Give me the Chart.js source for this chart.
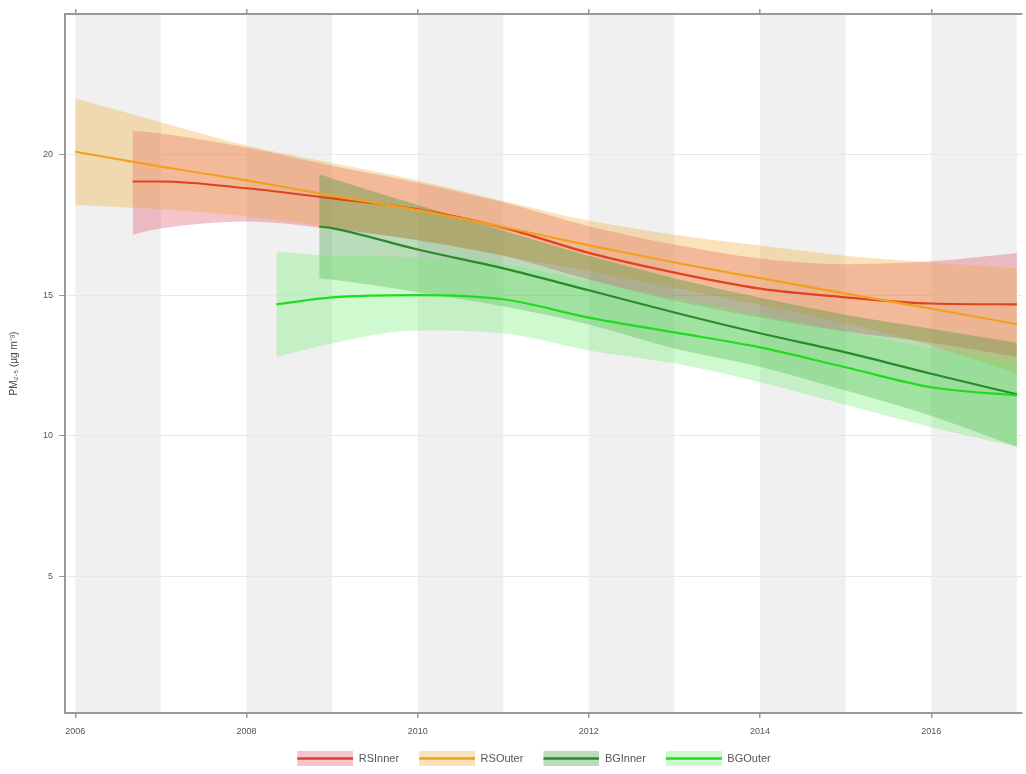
<!DOCTYPE html>
<html>
<head>
<meta charset="utf-8">
<script src="https://cdn.jsdelivr.net/npm/chart.js@4.4.1/dist/chart.umd.min.js"></script>
<style>
  html, body { margin: 0; padding: 0; background: #fff; }
  #wrap { width: 1026px; height: 774px; }
</style>
</head>
<body>
<div id="wrap"><canvas id="pmChart"></canvas></div>
<script>
// smoothed PM2.5 trends with confidence bands
var xTicks = [2006, 2008, 2010, 2012, 2014, 2016];
var yTicks = [5, 10, 15, 20];

var rsInnerYears = [2006.67, 2007, 2008, 2009, 2010, 2011, 2012, 2013, 2014, 2015, 2016, 2017];
var rsInnerFit   = [19.04, 19.04, 18.8, 18.44, 18.05, 17.4, 16.5, 15.8, 15.23, 14.92, 14.7, 14.67];
var rsInnerHigh  = [20.85, 20.75, 20.25, 19.6, 19.0, 18.3, 17.45, 16.8, 16.3, 16.1, 16.2, 16.5];
var rsInnerLow   = [17.15, 17.37, 17.62, 17.35, 16.95, 16.4, 15.55, 14.8, 14.2, 13.7, 13.3, 12.8];

var rsOuterYears = [2006, 2007, 2008, 2009, 2010, 2011, 2012, 2013, 2014, 2015, 2016, 2017];
var rsOuterFit   = [20.1, 19.57, 19.08, 18.54, 18.02, 17.42, 16.77, 16.16, 15.6, 15.05, 14.52, 13.96];
var rsOuterHigh  = [21.99, 21.15, 20.32, 19.7, 19.08, 18.35, 17.65, 17.15, 16.76, 16.4, 16.16, 15.95];
var rsOuterLow   = [18.2, 18.05, 17.8, 17.4, 16.95, 16.4, 15.85, 15.25, 14.65, 14.0, 13.2, 12.2];

var bgInnerYears = [2008.85, 2009, 2010, 2011, 2012, 2013, 2014, 2015, 2016, 2017];
var bgInnerFit   = [17.44, 17.38, 16.62, 15.95, 15.17, 14.38, 13.64, 12.96, 12.2, 11.47];
var bgInnerHigh  = [19.3, 19.15, 18.2, 17.3, 16.4, 15.6, 14.9, 14.3, 13.8, 13.3];
var bgInnerLow   = [15.6, 15.55, 15.1, 14.6, 13.95, 13.1, 12.45, 11.6, 10.7, 9.6];

var bgOuterYears = [2008.35, 2009, 2010, 2011, 2012, 2013, 2014, 2015, 2016, 2017];
var bgOuterFit   = [14.67, 14.92, 15.0, 14.85, 14.2, 13.67, 13.14, 12.43, 11.72, 11.43];
var bgOuterHigh  = [16.55, 16.4, 16.34, 16.1, 15.5, 14.9, 14.3, 13.7, 13.1, 12.6];
var bgOuterLow   = [12.8, 13.28, 13.74, 13.64, 13.03, 12.57, 11.9, 11.1, 10.3, 9.6];

var seriesNames = ['RSInner', 'RSOuter', 'BGInner', 'BGOuter'];
var lineColors = ['#e2401e', '#f2a01a', '#2a8a2a', '#1fdc1f'];
var bandColors = ['rgba(228,90,115,0.36)', 'rgba(242,172,60,0.35)', 'rgba(45,150,45,0.33)', 'rgba(110,240,110,0.33)'];

function pts(xs, ys) {
  return xs.map(function (x, i) { return { x: x, y: ys[i] }; });
}

var groups = [
  [rsInnerYears, rsInnerFit, rsInnerHigh, rsInnerLow],
  [rsOuterYears, rsOuterFit, rsOuterHigh, rsOuterLow],
  [bgInnerYears, bgInnerFit, bgInnerHigh, bgInnerLow],
  [bgOuterYears, bgOuterFit, bgOuterHigh, bgOuterLow]
];

// bands first (later groups drawn on top), lines above all bands
var datasets = [];
groups.forEach(function (g, k) {
  datasets.push({ label: seriesNames[k] + ' hi', data: pts(g[0], g[2]), borderWidth: 0, pointRadius: 0,
    backgroundColor: bandColors[k], fill: '+1', cubicInterpolationMode: 'monotone', order: 20 - k, band: true });
  datasets.push({ label: seriesNames[k] + ' lo', data: pts(g[0], g[3]), borderWidth: 0, pointRadius: 0,
    fill: false, cubicInterpolationMode: 'monotone', order: 20 - k, band: true });
});
groups.forEach(function (g, k) {
  datasets.push({ label: seriesNames[k], data: pts(g[0], g[1]), borderColor: lineColors[k], borderWidth: 2.2,
    pointRadius: 0, fill: false, cubicInterpolationMode: 'monotone', order: 4 - k, bandIdx: k });
});

// legend swatch: band with the line through it (10px blank on the left acts as item spacing)
function swatch(k) {
  var c = document.createElement('canvas');
  c.width = 66; c.height = 15;
  var g = c.getContext('2d');
  g.fillStyle = bandColors[k];
  g.fillRect(10, 0, 56, 15);
  g.strokeStyle = lineColors[k];
  g.lineWidth = 2.5;
  g.beginPath(); g.moveTo(10, 7.5); g.lineTo(66, 7.5); g.stroke();
  return c;
}

var stripes = {
  id: 'stripes',
  afterLayout: function (chart) {
    // centre the legend under the plot panel rather than the page
    if (chart.legend) { chart.legend.left += 18; chart.legend.right += 18; }
  },
  beforeDraw: function (chart) {
    var ctx = chart.ctx, a = chart.chartArea, xs = chart.scales.x;
    ctx.save();
    ctx.fillStyle = '#f0f0f0';
    for (var yr = 2006; yr < 2017; yr += 2) {
      var x0 = xs.getPixelForValue(yr), x1 = xs.getPixelForValue(yr + 1);
      ctx.fillRect(x0, a.top, x1 - x0, a.bottom - a.top);
    }
    ctx.restore();
  }
};

var axisColor = '#999';
var tickFont = { family: 'Liberation Sans, Arial, sans-serif', size: 9 };

new Chart(document.getElementById('pmChart').getContext('2d'), {
  type: 'line',
  data: { datasets: datasets },
  plugins: [stripes],
  options: {
    responsive: true,
    maintainAspectRatio: false,
    animation: false,
    layout: { padding: { left: 0, right: 4, top: 0, bottom: 0 } },
    plugins: {
      tooltip: { enabled: false },
      legend: {
        position: 'bottom',
        labels: {
          usePointStyle: true,
          pointStyleWidth: 66,
          boxHeight: 14,
          padding: 10,
          color: '#555',
          font: { family: 'Liberation Sans, Arial, sans-serif', size: 11 },
          filter: function (item, data) { return !data.datasets[item.datasetIndex].band; },
          generateLabels: function (chart) {
            return chart.data.datasets.map(function (ds, i) {
              return { text: ds.label, datasetIndex: i, pointStyle: ds.band ? null : swatch(ds.bandIdx),
                lineWidth: 0, strokeStyle: 'transparent', fillStyle: 'transparent', fontColor: '#555', hidden: false };
            });
          }
        }
      }
    },
    scales: {
      x: {
        type: 'linear', position: 'bottom', min: 2005.88, max: 2017.06,
        afterBuildTicks: function (s) { s.ticks = xTicks.map(function (v) { return { value: v }; }); },
        afterFit: function (s) { s.height = 30; },
        grid: { drawOnChartArea: false, drawTicks: true, tickLength: 5, color: axisColor, lineWidth: 1.5 },
        border: { display: true, color: axisColor, width: 2 },
        ticks: { color: '#555', font: tickFont, padding: 8, maxRotation: 0,
          callback: function (v) { return String(v); } }
      },
      x2: {
        type: 'linear', position: 'top', min: 2005.88, max: 2017.06,
        afterBuildTicks: function (s) { s.ticks = xTicks.map(function (v) { return { value: v }; }); },
        afterFit: function (s) { s.height = 14; },
        grid: { drawOnChartArea: false, drawTicks: true, tickLength: 5, color: axisColor, lineWidth: 1.5 },
        border: { display: true, color: axisColor, width: 2 },
        ticks: { display: false }
      },
      y: {
        min: 0.13, max: 25,
        afterBuildTicks: function (s) { s.ticks = yTicks.map(function (v) { return { value: v }; }); },
        afterFit: function (s) { s.width = 65; },
        grid: { color: '#e8e8e8', lineWidth: 1, drawTicks: true, tickLength: 6, tickColor: axisColor },
        border: { display: true, color: axisColor, width: 2 },
        ticks: { color: '#555', font: tickFont, padding: 6 },
        title: { display: true, text: 'PM₂.₅ (µg m⁻³)', color: '#444',
          font: { family: 'Liberation Sans, Arial, sans-serif', size: 10 }, padding: { top: 8, bottom: 0 } }
      }
    }
  }
});
</script>
</body>
</html>
